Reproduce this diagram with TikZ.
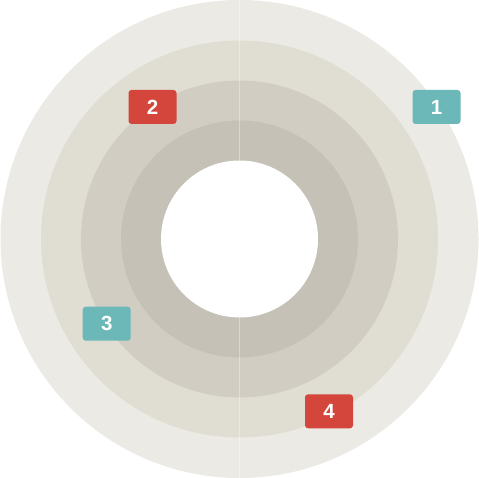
\documentclass[tikz,border=0pt]{standalone}
\usepackage{fontspec}
\setmainfont{Liberation Sans}
\definecolor{ringA}{HTML}{EBEAE5}
\definecolor{ringB}{HTML}{E0DDD3}
\definecolor{ringC}{HTML}{D1CDC3}
\definecolor{ringD}{HTML}{C5C1B7}
\definecolor{tealc}{HTML}{6CB8B9}
\definecolor{redc}{HTML}{D4463B}
\begin{document}
\begin{tikzpicture}[x=1pt,y=1pt,
  badge/.style={rounded corners=3pt, minimum width=48pt, minimum height=34pt,
    inner sep=0pt, text=white, font=\fontsize{20.5}{20.5}\selectfont\bfseries},
  divider/.style={white, opacity=0.35, line width=1pt}]
\useasboundingbox (0,0) rectangle (479,478);
\coordinate (c) at (239.5,239);
\fill[ringA] (c) circle (239);
\fill[ringB] (c) circle (198.5);
\fill[ringC] (c) circle (158.5);
\fill[ringD] (c) circle (118.5);
\fill[white] (c) circle (78.5);
\coordinate (t0) at (239.5,478);
\coordinate (t1) at (239.5,317.5);
\coordinate (b0) at (239.5,0);
\coordinate (b1) at (239.5,160.5);
\draw[divider] (t0) -- (t1);
\draw[divider] (b1) -- (b0);
\node[badge, fill=tealc] (n1) at (436.5,371) {1};
\node[badge, fill=redc] (n2) at (152.5,371) {2};
\node[badge, fill=tealc] (n3) at (106.7,154.3) {3};
\node[badge, fill=redc] (n4) at (329,66.7) {4};
\end{tikzpicture}
\end{document}
